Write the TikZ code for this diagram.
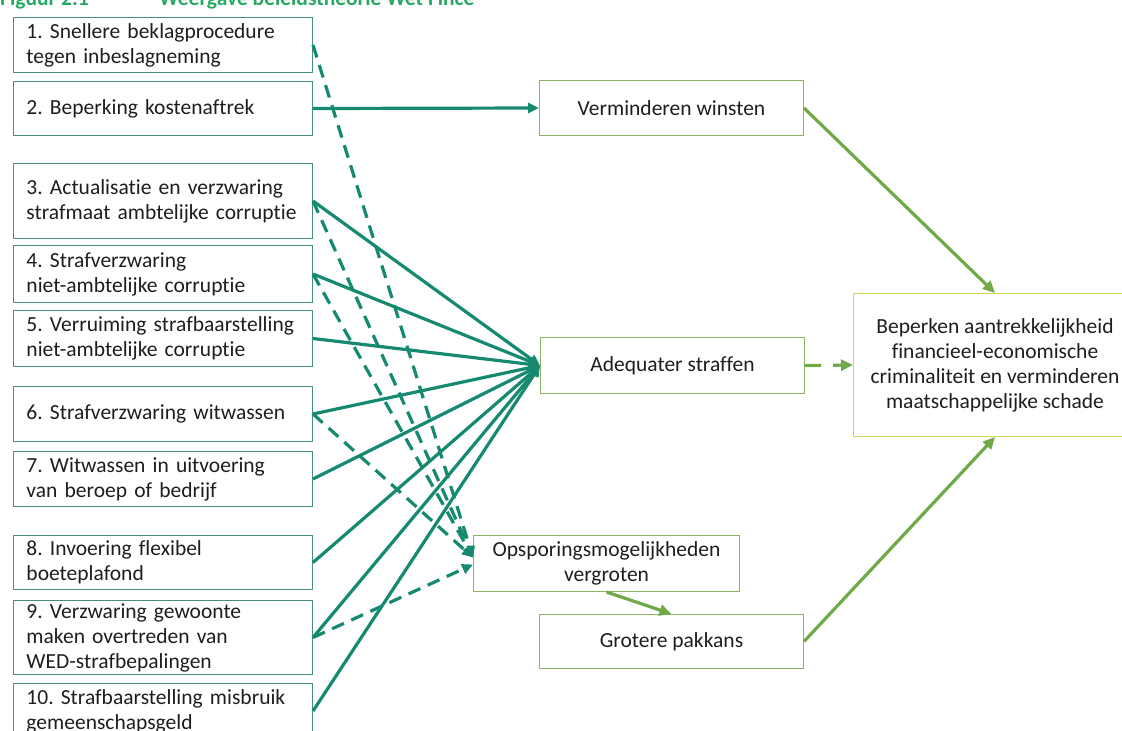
\documentclass[tikz,border=0pt]{standalone}
\usepackage{fontspec}
\setmainfont[Ligatures={NoCommon}]{Carlito}
\usetikzlibrary{arrows.meta}
\definecolor{tealline}{RGB}{22,138,112}
\definecolor{tealbox}{RGB}{70,140,128}
\definecolor{greenbox}{RGB}{140,180,105}
\definecolor{greenline}{RGB}{112,170,72}
\definecolor{yellowbox}{RGB}{205,215,90}
\definecolor{titlegreen}{RGB}{40,168,100}
\definecolor{textgray}{RGB}{30,30,30}
\frenchspacing
\begin{document}
\begin{tikzpicture}[x=1pt,y=-1pt,
  txt/.style={font=\fontsize{21.5}{25}\selectfont, text=textgray},
  lbox/.style={txt, draw=tealbox, line width=1pt, anchor=north west,
    minimum width=299pt, text width=273pt, inner xsep=13pt, inner ysep=0pt, align=left},
  mbox/.style={txt, draw=greenbox, line width=1pt, anchor=north west,
    minimum width=264pt, inner ysep=0pt, align=center},
  rboxst/.style={txt, draw=yellowbox, line width=1pt, anchor=north west,
    minimum width=283pt, minimum height=143pt, inner ysep=0pt, align=center},
  tealarrow/.style={draw=tealline, line width=3.2pt, -{Triangle[length=11pt,width=10pt]}},
  tealdash/.style={tealarrow, dash pattern=on 13pt off 8pt},
  greenarrow/.style={draw=greenline, line width=3.2pt, -{Triangle[length=12pt,width=11pt]}},
  greendash/.style={greenarrow, dash pattern=on 16pt off 12pt},
  titlest/.style={font=\bfseries\fontsize{21.5}{25}\selectfont, text=titlegreen, inner sep=0pt, anchor=base west}
]
\useasboundingbox (0,0) rectangle (1122,731);
\clip (0,0) rectangle (1122,731);

% title (cut off at top)
\node[titlest] (tnum) at (0,5) {Figuur 2.1};
\node[titlest] (ttext) at (159,5) {Weergave beleidstheorie Wet Fince};

% left boxes
\node[lbox, minimum height=55pt] (b1) at (13,17) {1. Snellere beklagprocedure\\tegen inbeslagneming};
\node[lbox, minimum height=54pt] (b2) at (13,81) {2. Beperking kostenaftrek};
\node[lbox, minimum height=75pt] (b3) at (13,163) {3. Actualisatie en verzwaring\\strafmaat ambtelijke corruptie};
\node[lbox, minimum height=57pt] (b4) at (13,245) {4. Strafverzwaring\\niet-ambtelijke corruptie};
\node[lbox, minimum height=56pt] (b5) at (13,310) {5. Verruiming strafbaarstelling\\niet-ambtelijke corruptie};
\node[lbox, minimum height=55pt] (b6) at (13,386) {6. Strafverzwaring witwassen};
\node[lbox, minimum height=55pt] (b7) at (13,451) {7. Witwassen in uitvoering\\van beroep of bedrijf};
\node[lbox, minimum height=54pt] (b8) at (13,535) {8. Invoering flexibel\\boeteplafond};
\node[lbox, minimum height=74pt] (b9) at (13,600) {9. Verzwaring gewoonte\\maken overtreden van\\WED-strafbepalingen};
\node[lbox, minimum height=55pt] (b10) at (13,683) {10. Strafbaarstelling misbruik\\gemeenschapsgeld};

% middle boxes
\node[mbox, minimum height=55pt] (verm) at (539,80) {Verminderen winsten};
\node[mbox, minimum height=56pt] (adeq) at (540,337) {Adequater straffen};
\node[mbox, minimum width=266pt, minimum height=56pt] (opsp) at (473,535) {Opsporingsmogelijkheden\\vergroten};
\node[mbox, minimum height=54pt] (grot) at (539,614) {Grotere pakkans};

% right box
\node[rboxst] (rbox) at (853,293) {Beperken aantrekkelijkheid\\financieel-economische\\criminaliteit en verminderen\\maatschappelijke schade};

% targets on Opsporing
\coordinate (oinA) at ([yshift=6pt]opsp.west);
\coordinate (oinB) at ([yshift=-1pt]opsp.west);

% dashed connectors to Opsporing
\draw[tealdash] (b1.east) -- (oinA);
\draw[tealdash] (b3.east) -- (oinA);
\draw[tealdash] (b4.east) -- (oinA);
\draw[tealdash] (b6.east) -- (oinA);
\draw[tealdash] (b9.east) -- (oinB);

% solid connectors
\draw[tealarrow] (b2.east) -- (verm.west);
\foreach \b in {b3,b4,b5,b6,b7,b8,b9,b10}
  \draw[tealarrow] (\b.east) -- (adeq.west);

% green connectors
\draw[greenarrow] (verm.east) -- (rbox.north);
\draw[greenarrow] (grot.east) -- (rbox.south);
\draw[greenarrow] (opsp.south) -- (grot.north);
\draw[greendash] (adeq.east) -- (rbox.west);
\end{tikzpicture}
\end{document}
